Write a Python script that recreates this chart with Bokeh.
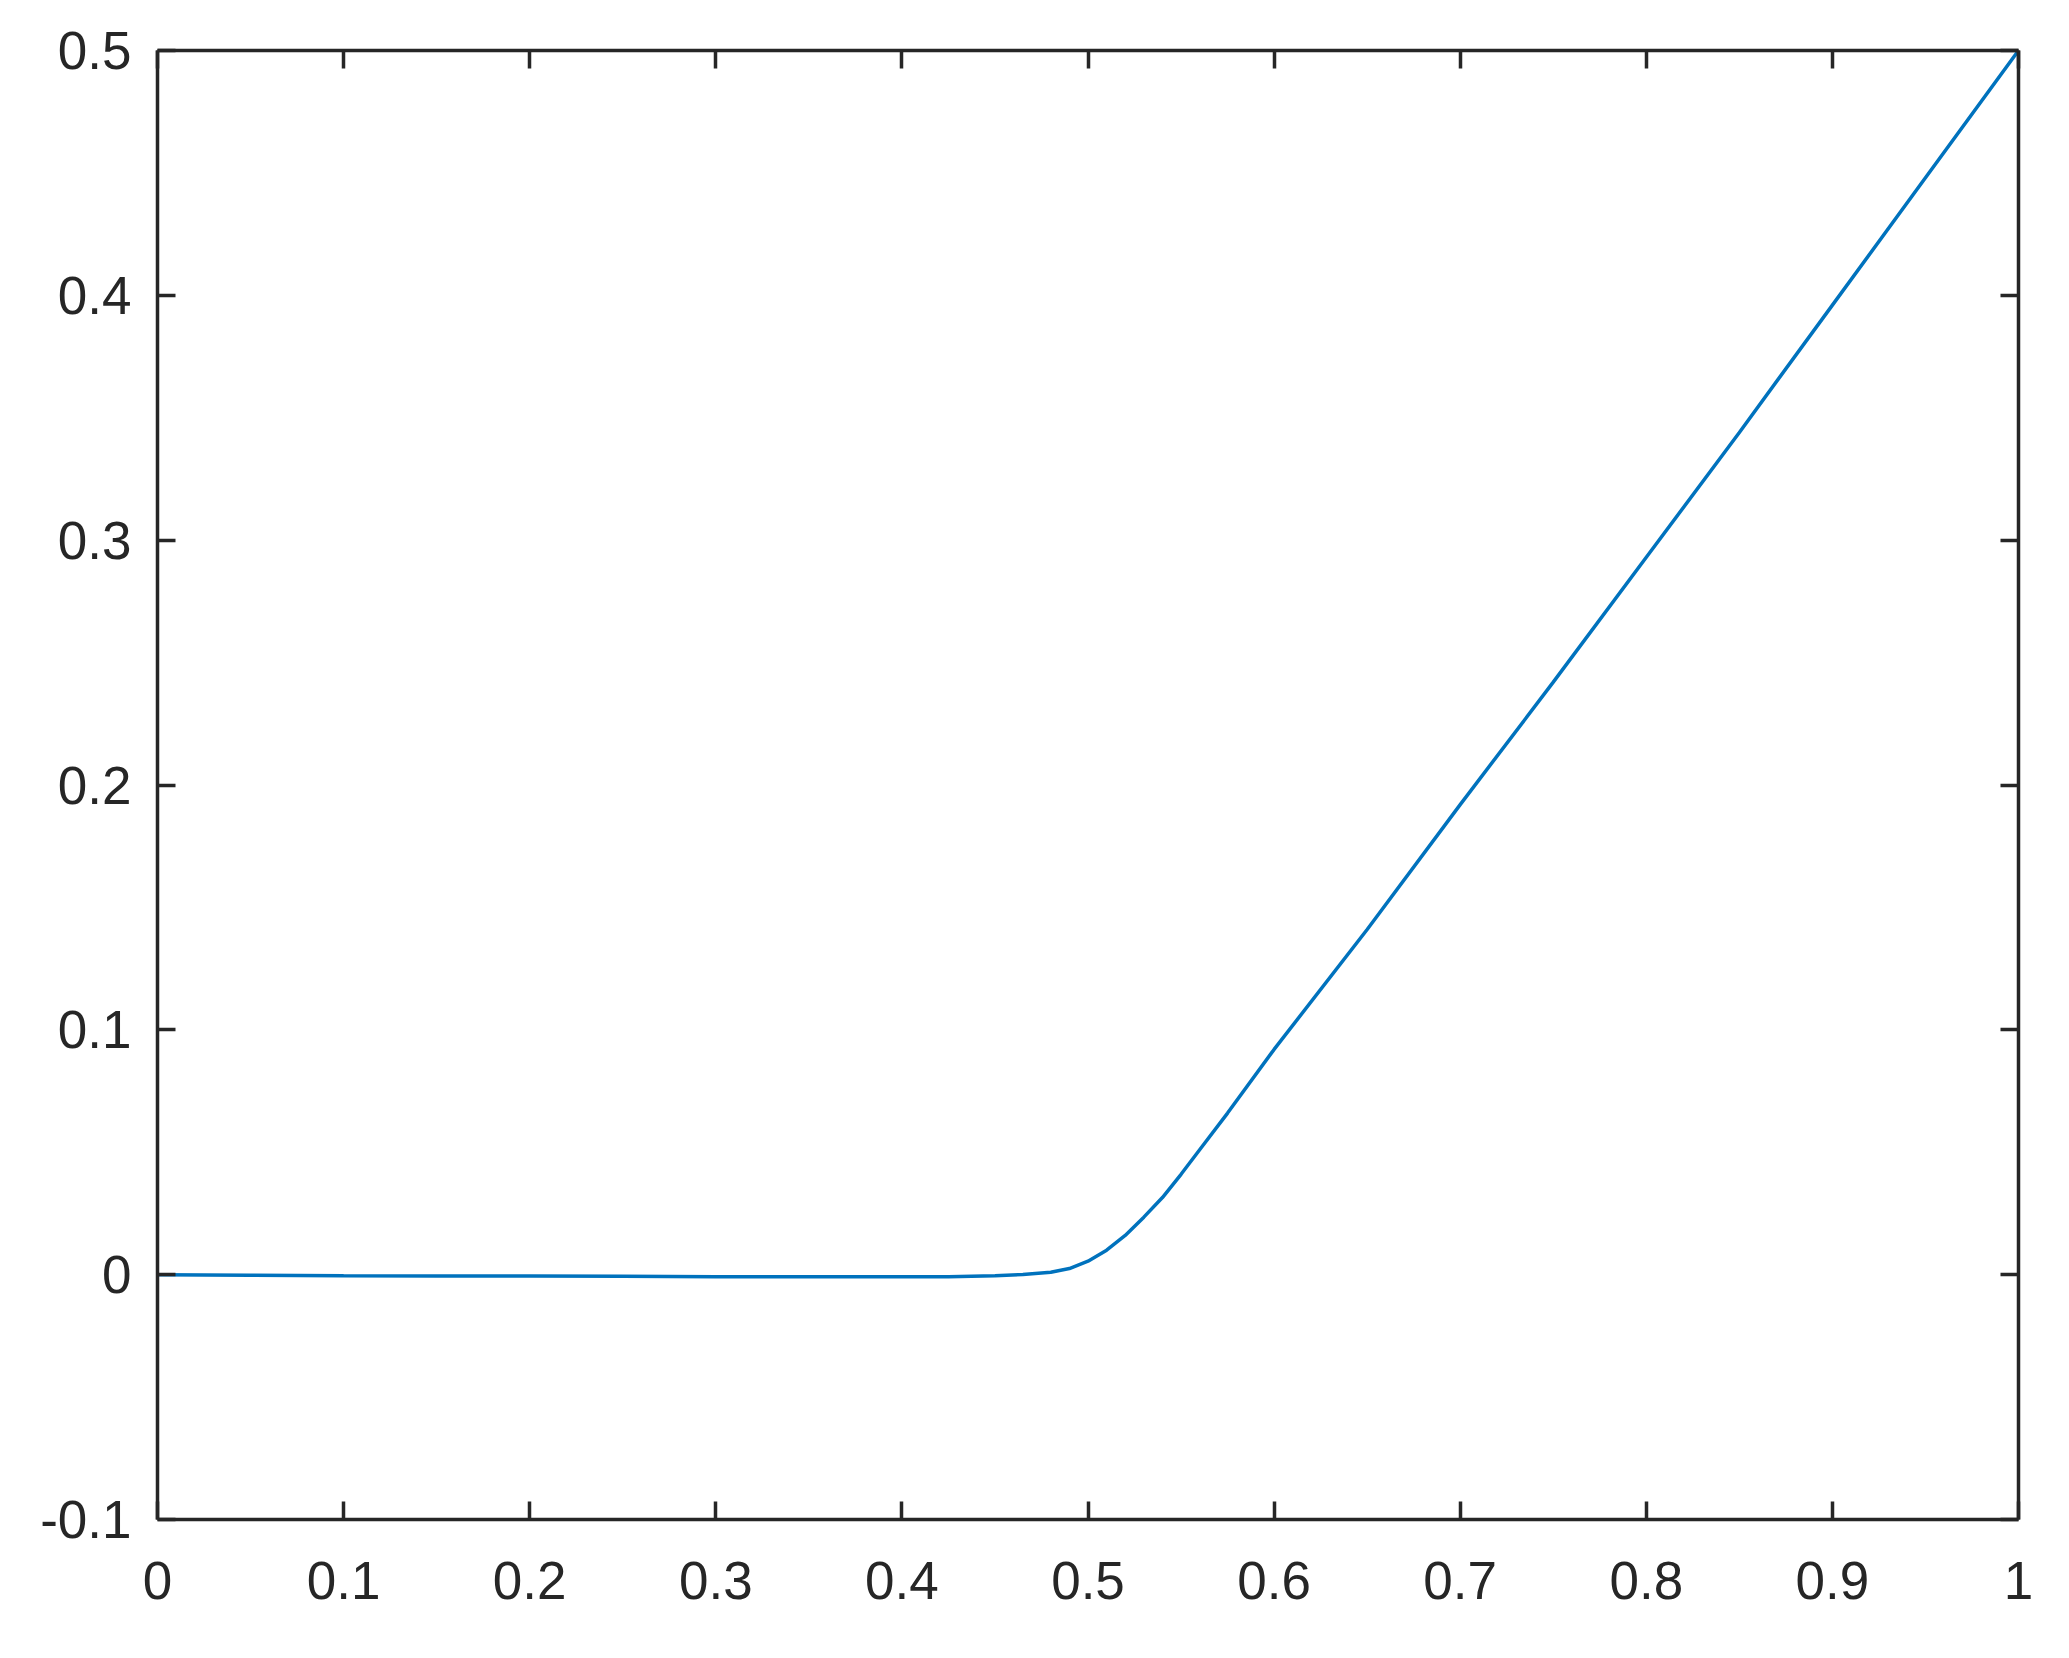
from bokeh.plotting import figure
from bokeh.models import LinearAxis, FixedTicker, Range1d
from bokeh.embed import file_html
from bokeh.resources import INLINE

# data
x_vals = [0, 0.05, 0.1, 0.15, 0.2, 0.25, 0.3, 0.35, 0.4, 0.425, 0.45, 0.465, 0.48, 0.49,
          0.5, 0.51, 0.52, 0.53, 0.54, 0.55, 0.56, 0.575, 0.6, 0.65, 0.7, 0.75, 0.8,
          0.85, 0.9, 0.95, 1.0]
y_vals = [0, -0.0002, -0.0004, -0.0005, -0.0005, -0.0006, -0.0008, -0.0009, -0.0009,
          -0.0008, -0.0004, 0.0001, 0.001, 0.0025, 0.0055, 0.0100, 0.0160, 0.0235,
          0.0315, 0.041, 0.051, 0.066, 0.092, 0.141, 0.192, 0.242, 0.293, 0.344,
          0.396, 0.448, 0.5]

x_ticks = [0, 0.1, 0.2, 0.3, 0.4, 0.5, 0.6, 0.7, 0.8, 0.9, 1]
x_labels = ["0", "0.1", "0.2", "0.3", "0.4", "0.5", "0.6", "0.7", "0.8", "0.9", "1"]
y_ticks = [-0.1, 0, 0.1, 0.2, 0.3, 0.4, 0.5]
y_labels = ["-0.1", "0", "0.1", "0.2", "0.3", "0.4", "0.5"]

TEXT = "#262626"
FONT = "Liberation Sans"
FS = "53px"

p = figure(width=2061, height=1650, output_backend="svg", toolbar_location=None,
           x_range=Range1d(0, 1), y_range=Range1d(-0.1, 0.5),
           min_border_left=157, min_border_right=43, min_border_top=50,
           min_border_bottom=131, x_axis_location="below", y_axis_location="left")
p.grid.visible = False
p.outline_line_color = None
p.background_fill_color = "white"
p.border_fill_color = "white"

p.line(x_vals, y_vals, line_color="#0072BD", line_width=3.5)

def style(ax, ticks, labels, show_labels, standoff):
    ax.ticker = FixedTicker(ticks=ticks)
    ax.major_label_overrides = {t: l for t, l in zip(ticks, labels)}
    ax.axis_line_color = TEXT
    ax.axis_line_width = 3.5
    ax.major_tick_line_color = TEXT
    ax.major_tick_line_width = 3.5
    ax.major_tick_in = 18
    ax.major_tick_out = 0
    ax.minor_tick_line_color = None
    ax.major_label_text_font = FONT
    ax.major_label_standoff = standoff
    if show_labels:
        ax.major_label_text_font_size = FS
        ax.major_label_text_color = TEXT
    else:
        ax.major_label_text_font_size = "1px"
        ax.major_label_text_color = None
        ax.major_label_standoff = 0

style(p.xaxis[0], x_ticks, x_labels, True, 42)
style(p.yaxis[0], y_ticks, y_labels, True, 26)

top = LinearAxis()
style(top, x_ticks, x_labels, False, 0)
p.add_layout(top, "above")
right = LinearAxis()
style(right, y_ticks, y_labels, False, 0)
p.add_layout(right, "right")

open("out.html", "w").write(file_html(p, INLINE))
